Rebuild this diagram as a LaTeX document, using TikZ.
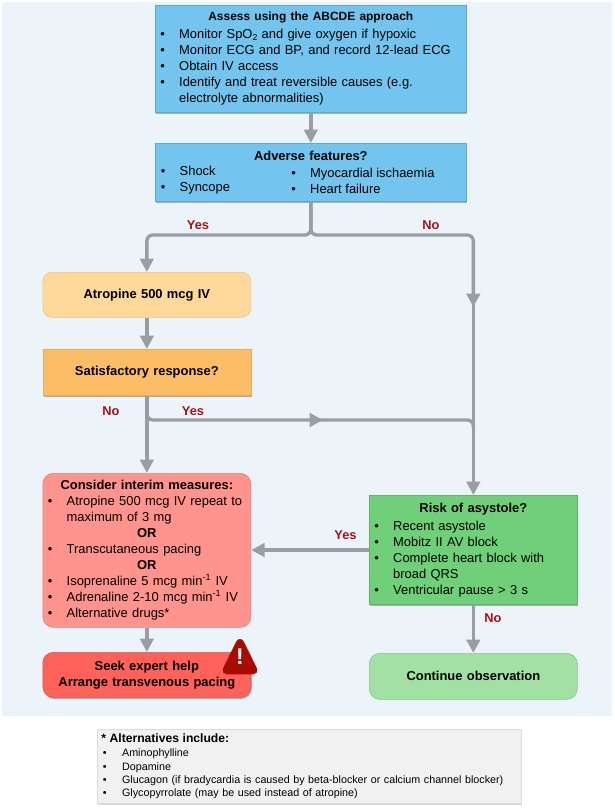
\documentclass[tikz,border=0pt]{standalone}
\usepackage{fontspec}
\setmainfont{Liberation Sans}
\usetikzlibrary{arrows.meta,shadows}
\definecolor{linegrey}{HTML}{9A9EA3}
\definecolor{panelbg}{HTML}{EDF4F9}
\definecolor{bluefill}{HTML}{73C4EE}
\definecolor{blueedge}{HTML}{5FA9D2}
\definecolor{atrofill}{HTML}{FFD89C}
\definecolor{atroedge}{HTML}{E9C48A}
\definecolor{satfill}{HTML}{FBBE66}
\definecolor{satedge}{HTML}{E5AC5C}
\definecolor{intfill}{HTML}{FF938E}
\definecolor{intedge}{HTML}{E57F7B}
\definecolor{seekfill}{HTML}{FF625A}
\definecolor{seekedge}{HTML}{DD5650}
\definecolor{riskfill}{HTML}{6FD079}
\definecolor{riskedge}{HTML}{5FB568}
\definecolor{contfill}{HTML}{A3E0A3}
\definecolor{contedge}{HTML}{8CC58C}
\definecolor{altfill}{HTML}{F1F1F1}
\definecolor{altedge}{HTML}{DADCDE}
\definecolor{labelred}{HTML}{A81212}
\definecolor{warnred}{HTML}{A80C00}
\newlength{\bulw}
\setlength{\bulw}{14.2pt}
\newcommand{\bul}[1]{\makebox[\bulw][l]{•}#1}
\newcommand{\cont}[1]{\hspace*{\bulw}#1}
\newcommand{\ttl}[1]{\makebox[\linewidth][c]{\bfseries #1}}
\newcommand{\upminus}{\textsuperscript{-1}}
\tikzset{
  x=.75pt,y=-.75pt,
  boxbase/.style={draw,line width=.5pt,align=left,inner sep=0pt,inner xsep=3.7pt,
    font=\fontsize{9.7pt}{12pt}\selectfont,anchor=north west},
  shadowed/.style={drop shadow={shadow xshift=.7pt,shadow yshift=-1.3pt,fill=black!55,opacity=.55}},
  sized/.style 2 args={minimum width=#1*.75pt,minimum height=#2*.75pt,text width=#1*.75pt-7.4pt},
  conn/.style={draw=linegrey,line width=2.5pt},
  tip/.style={conn,-{Triangle[length=10pt,width=10pt]},shorten >=0pt},
  roundbend/.style={rounded corners=4.5pt},
  yn/.style={text=labelred,font=\bfseries\fontsize{9.6pt}{11pt}\selectfont,inner sep=0pt},
  column/.style={inner sep=0pt,align=left,anchor=north west,font=\fontsize{9.7pt}{12pt}\selectfont},
}
\begin{document}
\begin{tikzpicture}
\useasboundingbox (0,0) rectangle (614,809);
\fill[white] (0,0) rectangle (614,809);
\fill[panelbg] (2,2) rectangle (612,716);

% boxes
\node[boxbase,sized={311}{107},draw=blueedge,fill=bluefill,shadowed] (assess) at (155,5) {%
  \vspace*{1.5pt}\ttl{\fontsize{8.95pt}{12pt}\selectfont Assess using the ABCDE approach}\\
  \bul{Monitor SpO\raisebox{-.25ex}{\fontsize{6.5pt}{7pt}\selectfont 2} and give oxygen if hypoxic}\\
  \bul{Monitor ECG and BP, and record 12-lead ECG}\\
  \bul{Obtain IV access}\\
  \bul{Identify and treat reversible causes (e.g.}\\
  \cont{electrolyte abnormalities)}};

\node[boxbase,sized={311}{58},draw=blueedge,fill=bluefill,shadowed,text depth=29.25pt,text height=11.75pt] (adverse) at (155,143) {\ttl{Adverse features?}};
\node[column] (advleft) at (160.5,166) {\bul{Shock}\\\bul{Syncope}};
\node[column] (advright) at (291,168) {\bul{Myocardial ischaemia}\\\bul{Heart failure}};

\node[boxbase,sized={208}{45},draw=atroedge,fill=atrofill,rounded corners=7pt] (atropine) at (42.5,272) {\ttl{Atropine 500 mcg IV}};
\node[boxbase,sized={208}{46},draw=satedge,fill=satfill,shadowed] (satisf) at (42.5,349) {\ttl{Satisfactory response?}};

\node[boxbase,sized={208}{154},draw=intedge,fill=intfill,rounded corners=8pt] (interim) at (42.5,473) {%
  \ttl{Consider interim measures:}\\
  \bul{Atropine 500 mcg IV repeat to}\\
  \cont{maximum of 3 mg}\\
  \ttl{OR}\\
  \bul{Transcutaneous pacing}\\
  \ttl{OR}\\
  \bul{Isoprenaline 5 mcg min\upminus{} IV}\\
  \bul{Adrenaline 2-10 mcg min\upminus{} IV}\\
  \bul{Alternative drugs*}};

\node[boxbase,sized={208}{45},draw=seekedge,fill=seekfill,rounded corners=8pt,shadowed] (seek) at (42.5,652) {%
  \ttl{Seek expert help}\\\ttl{Arrange transvenous pacing}};

\node[boxbase,sized={208}{109},draw=riskedge,fill=riskfill,shadowed] (risk) at (369,495) {%
  \vspace*{1.5pt}\ttl{Risk of asystole?}\\
  \bul{Recent asystole}\\
  \bul{Mobitz II AV block}\\
  \bul{Complete heart block with}\\
  \cont{broad QRS}\\
  \bul{Ventricular pause > 3 s}};

\node[boxbase,sized={208}{46},draw=contedge,fill=contfill,rounded corners=8pt] (continue) at (369,653) {\ttl{Continue observation}};

\node[boxbase,sized={424}{74},draw=altedge,fill=altfill,inner xsep=3pt,
  font=\fontsize{8.05pt}{10pt}\selectfont,text width=312pt,
  drop shadow={shadow xshift=.5pt,shadow yshift=-1pt,fill=black!40,opacity=.4}] (alts) at (97,729) {%
  \setlength{\bulw}{14.4pt}%
  {\fontsize{9.1pt}{10pt}\selectfont\bfseries * Alternatives include:}\\[1pt]
  \hspace*{1.2pt}\bul{Aminophylline}\\
  \hspace*{1.2pt}\bul{Dopamine}\\
  \hspace*{1.2pt}\bul{Glucagon (if bradycardia is caused by beta-blocker or calcium channel blocker)}\\
  \hspace*{1.2pt}\bul{Glycopyrrolate (may be used instead of atropine)}};

% warning sign
\draw[warnred,fill=warnred,line width=6pt,line join=round] (240,643) -- (253.5,670.3) -- (226.5,670.3) -- cycle;
\node[text=white,font=\bfseries\fontsize{17pt}{17pt}\selectfont,inner sep=0pt] (warnmark) at (240,657) {!};

% connector waypoints
\coordinate (armjoin) at (adverse.south |- 0,235);
\coordinate (rightcorner) at (risk.north |- 0,235);
\coordinate (leftcorner) at (atropine.north |- 0,235);
\coordinate (midright) at (risk.north |- 0,307);
\coordinate (midrightback) at (risk.north |- 0,300);
\coordinate (yesjoin) at (satisf.south |- 0,420);
\coordinate (yesmid) at (323,420);
\coordinate (yesmidback) at (316,420);
\coordinate (yesend) at (risk.north |- 0,420);
\coordinate (yeslow) at (risk.north |- 0,428);
\coordinate (riskleft) at (risk.west |- 0,550);
\coordinate (interimright) at (interim.east |- 0,550);

% connectors
\draw[conn,roundbend] (yesmidback) -- (yesend) -- (yeslow);
\draw[tip] (midrightback) -- (risk.north);
\draw[tip] (assess.south) -- (adverse.north);
\draw[tip,roundbend] (adverse.south) -- (armjoin) -- (leftcorner) -- (atropine.north);
\draw[tip,roundbend] (adverse.south) -- (armjoin) -- (rightcorner) -- (midright);
\draw[tip] (atropine.south) -- (satisf.north);
\draw[tip] (satisf.south) -- (interim.north);
\draw[tip,roundbend] (satisf.south) -- (yesjoin) -- (yesmid);
\draw[tip] (riskleft) -- (interimright);
\draw[tip] (interim.south) -- (seek.north);
\draw[tip] (risk.south) -- (continue.north);

% labels
\node[yn] (lyes1) at (198,225) {Yes};
\node[yn] (lno1) at (431,225) {No};
\node[yn] (lno2) at (111,411) {No};
\node[yn] (lyes2) at (193,411) {Yes};
\node[yn] (lyes3) at (345.5,535) {Yes};
\node[yn] (lno3) at (493,618) {No};
\end{tikzpicture}
\end{document}
